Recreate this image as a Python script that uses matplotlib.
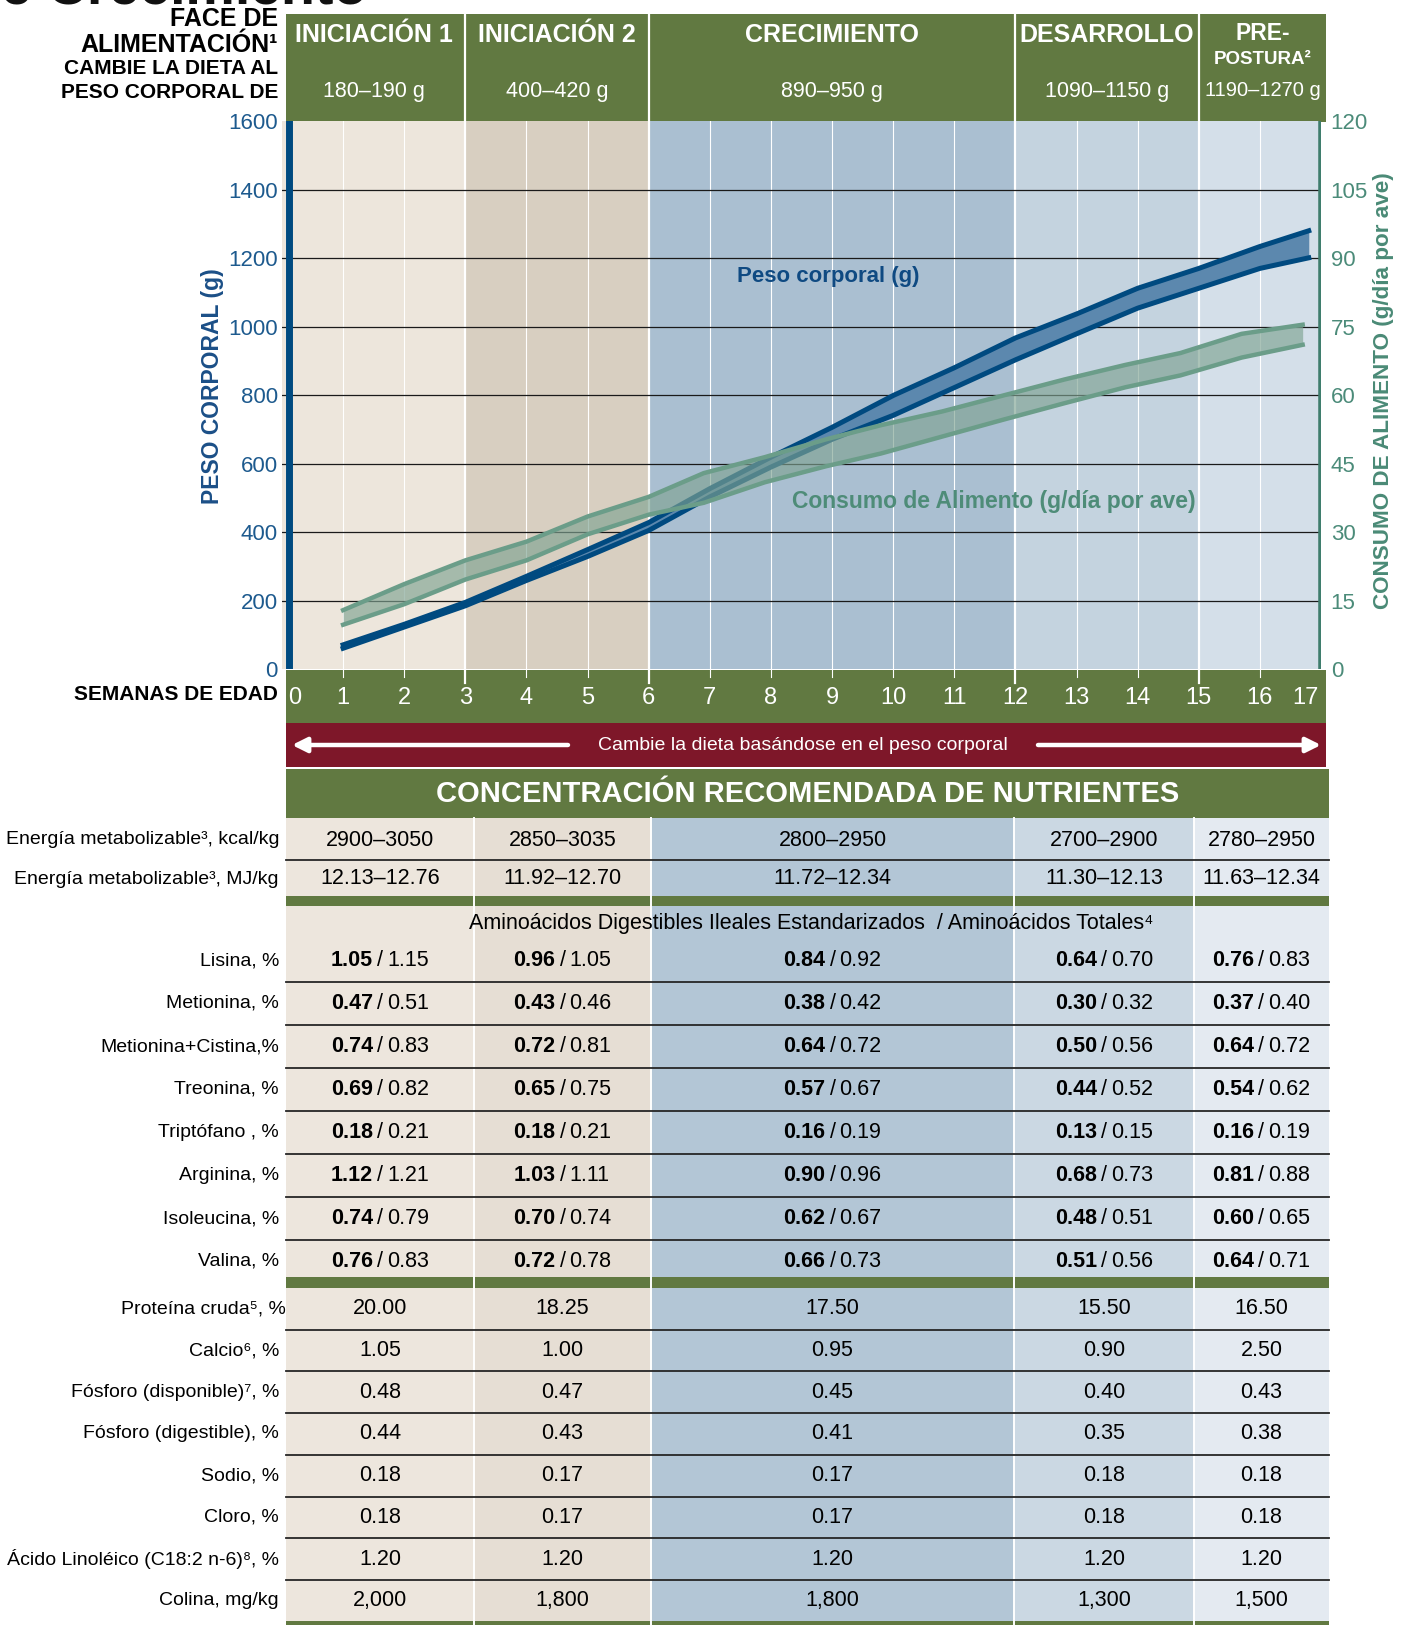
import numpy as np
import matplotlib.pyplot as plt
from matplotlib.patches import Rectangle

FONT = ['Liberation Sans', 'DejaVu Sans']
plt.rcParams['font.family'] = FONT

W, H = 1410, 1625
GREEN = '#617941'
RED = '#7e1729'
NAVY = '#004a80'
BLUE_TXT = '#1d5a8e'
TEAL = '#4b8b79'

# ---- chart data ----
stage_edges = [0, 3, 6, 12, 15, 17]
stage_names = ['INICIACIÓN 1', 'INICIACIÓN 2', 'CRECIMIENTO', 'DESARROLLO', 'PRE-']
stage_weights = ['180–190 g', '400–420 g', '890–950 g', '1090–1150 g', '1190–1270 g']
stage_bg = ['#ede6dc', '#d8cfc1', '#aabfd1', '#c4d3df', '#d4dfe9']

weeks_bw = [1, 2, 3, 4, 5, 6, 7, 8, 9, 10, 11, 12, 13, 14, 15, 16, 16.8]
bw_upper = [72, 132, 196, 272, 350, 429, 528, 620, 707, 800, 881, 968, 1038, 1113, 1171, 1235, 1281]
bw_lower = [62, 124, 186, 260, 330, 406, 504, 591, 672, 742, 823, 904, 980, 1055, 1113, 1171, 1202]

weeks_feed = [1, 2, 3, 4, 5, 6, 6.9, 7.9, 8.9, 9.8, 10.8, 11.8, 12.8, 13.8, 14.7, 15.7, 16.7]
feed_upper = [13.0, 18.7, 23.9, 28.0, 33.5, 37.8, 43.0, 46.5, 50.4, 53.5, 56.5, 60.0, 63.5, 66.7, 69.3, 73.5, 75.5]
feed_lower = [9.8, 14.3, 19.7, 23.9, 29.6, 33.9, 36.5, 41.0, 44.5, 47.3, 51.0, 54.7, 58.3, 61.8, 64.4, 68.3, 71.1]

bw_ticks = list(range(0, 1601, 200))
feed_ticks = list(range(0, 121, 15))
week_ticks = list(range(0, 18))

# ---- table data ----
energy_labels = ['Energía metabolizable³, kcal/kg', 'Energía metabolizable³, MJ/kg']
energy_vals = [['2900–3050', '2850–3035', '2800–2950', '2700–2900', '2780–2950'],
               ['12.13–12.76', '11.92–12.70', '11.72–12.34', '11.30–12.13', '11.63–12.34']]

amino_labels = ['Lisina, %', 'Metionina, %', 'Metionina+Cistina,%', 'Treonina, %',
                'Triptófano , %', 'Arginina, %', 'Isoleucina, %', 'Valina, %']
amino_dig = [['1.05', '0.96', '0.84', '0.64', '0.76'],
             ['0.47', '0.43', '0.38', '0.30', '0.37'],
             ['0.74', '0.72', '0.64', '0.50', '0.64'],
             ['0.69', '0.65', '0.57', '0.44', '0.54'],
             ['0.18', '0.18', '0.16', '0.13', '0.16'],
             ['1.12', '1.03', '0.90', '0.68', '0.81'],
             ['0.74', '0.70', '0.62', '0.48', '0.60'],
             ['0.76', '0.72', '0.66', '0.51', '0.64']]
amino_tot = [['1.15', '1.05', '0.92', '0.70', '0.83'],
             ['0.51', '0.46', '0.42', '0.32', '0.40'],
             ['0.83', '0.81', '0.72', '0.56', '0.72'],
             ['0.82', '0.75', '0.67', '0.52', '0.62'],
             ['0.21', '0.21', '0.19', '0.15', '0.19'],
             ['1.21', '1.11', '0.96', '0.73', '0.88'],
             ['0.79', '0.74', '0.67', '0.51', '0.65'],
             ['0.83', '0.78', '0.73', '0.56', '0.71']]

other_labels = ['Proteína cruda⁵, %', 'Calcio⁶, %', 'Fósforo (disponible)⁷, %', 'Fósforo (digestible), %',
                'Sodio, %', 'Cloro, %', 'Ácido Linoléico (C18:2 n-6)⁸, %', 'Colina, mg/kg']
other_vals = [['20.00', '18.25', '17.50', '15.50', '16.50'],
              ['1.05', '1.00', '0.95', '0.90', '2.50'],
              ['0.48', '0.47', '0.45', '0.40', '0.43'],
              ['0.44', '0.43', '0.41', '0.35', '0.38'],
              ['0.18', '0.17', '0.17', '0.18', '0.18'],
              ['0.18', '0.17', '0.17', '0.18', '0.18'],
              ['1.20', '1.20', '1.20', '1.20', '1.20'],
              ['2,000', '1,800', '1,800', '1,300', '1,500']]

col_edges = [286, 474, 651, 1014, 1194, 1329]
col_bg = ['#ede6dd', '#e6ded4', '#b3c6d6', '#cbd8e3', '#e4eaf1']

VAL_FS = 15.5
LAB_FS = 14

# chart geometry in pixels
cx0, cx1 = 282, 1321
cy_top, cy_bot = 121.5, 669.5


def wx(w):
    return cx0 + w * (cx1 - cx0) / 17


fig = plt.figure(figsize=(W / 100, H / 100), dpi=100)
tab = fig.add_axes([0, 0, 1, 1])
tab.set_xlim(0, W)
tab.set_ylim(H, 0)
tab.axis('off')

# cut-off title at the very top
tab.text(367, 4, 'de Crecimiento', ha='right', va='baseline', fontsize=40,
         fontweight='bold', color='#111111')

# ---- header band ----
tab.add_patch(Rectangle((286, 13.5), 1326 - 286, cy_top - 13.5, color=GREEN, lw=0))
for e in stage_edges[1:-1]:
    tab.plot([wx(e), wx(e)], [13.5, cy_top], color='white', lw=1.6)
for i, (nm, wt) in enumerate(zip(stage_names, stage_weights)):
    xc = (wx(stage_edges[i]) + wx(stage_edges[i + 1])) / 2
    if i == 4:
        xc += 3
        tab.text(xc, 34, nm, ha='center', va='center', color='white', fontsize=16.5,
                 fontweight='bold')
        tab.text(xc, 59, 'POSTURA²', ha='center', va='center', color='white', fontsize=13.5,
                 fontweight='bold')
    else:
        tab.text(xc, 35, nm, ha='center', va='center', color='white', fontsize=18,
                 fontweight='bold')
    tab.text(xc, 91, wt, ha='center', va='center', color='white',
             fontsize=14.5 if i == 4 else 15.5)

tab.text(278, 19, 'FACE DE', ha='right', va='center', fontsize=18, fontweight='bold')
tab.text(278, 45, 'ALIMENTACIÓN¹', ha='right', va='center', fontsize=18, fontweight='bold')
tab.text(278, 69, 'CAMBIE LA DIETA AL', ha='right', va='center', fontsize=15, fontweight='bold')
tab.text(278, 93, 'PESO CORPORAL DE', ha='right', va='center', fontsize=15, fontweight='bold')

# ---- chart ----
ax = fig.add_axes([cx0 / W, 1 - cy_bot / H, (cx1 - cx0) / W, (cy_bot - cy_top) / H])
ax.set_xlim(0, 17)
ax.set_ylim(0, 1600)
for i in range(len(stage_bg)):
    ax.axvspan(stage_edges[i], stage_edges[i + 1], color=stage_bg[i], lw=0, zorder=0)
for w in week_ticks[1:-1]:
    ax.axvline(w, color='white', lw=1.6 if w in stage_edges else 0.8, zorder=1)
for t in bw_ticks[1:-1]:
    ax.axhline(t, color='#1a1a1a', lw=0.9, zorder=2)
ax.axvline(0.12, color=NAVY, lw=5, zorder=6)
ax.axvline(17, color='#3f7d6d', lw=4, zorder=6)

ax.fill_between(weeks_bw, bw_lower, bw_upper, color='#5c88ae', lw=0, zorder=4)
ax.plot(weeks_bw, bw_upper, color=NAVY, lw=3.6, zorder=5)
ax.plot(weeks_bw, bw_lower, color=NAVY, lw=3.6, zorder=5)

ax.set_yticks(bw_ticks)
ax.set_xticks([])
ax.tick_params(axis='y', length=0, pad=3, labelsize=16, labelcolor=BLUE_TXT)
for s in ax.spines.values():
    s.set_visible(False)
ax.text(8.94, 1146, 'Peso corporal (g)', ha='center', va='center', fontsize=16,
        fontweight='bold', color='#0f4a82', zorder=7)

ax2 = ax.twinx()
ax2.set_ylim(0, 120)
ax2.fill_between(weeks_feed, feed_lower, feed_upper, color='#7fa392', alpha=0.65, lw=0, zorder=4)
ax2.plot(weeks_feed, feed_upper, color='#6b9d89', lw=3.2, zorder=5)
ax2.plot(weeks_feed, feed_lower, color='#6b9d89', lw=3.2, zorder=5)
ax2.set_yticks(feed_ticks)
ax2.tick_params(axis='y', length=0, pad=7, labelsize=16, labelcolor=TEAL)
for s in ax2.spines.values():
    s.set_visible(False)
ax2.text(11.65, 36.7, 'Consumo de Alimento (g/día por ave)', ha='center', va='center',
         fontsize=16.5, fontweight='bold', color='#4e8c78', zorder=7)

tab.text(212, 386, 'PESO CORPORAL (g)', rotation=90, ha='center', va='center', fontsize=16.5,
         fontweight='bold', color='#1b4f87')
tab.text(1384, 391, 'CONSUMO DE ALIMENTO (g/día por ave)', rotation=90, ha='center', va='center',
         fontsize=16.2, fontweight='bold', color='#4a8a76')

# ---- week band ----
tab.add_patch(Rectangle((286, cy_bot), 1326 - 286, 723 - cy_bot, color=GREEN, lw=0))
for w in week_ticks:
    if 0 < w < 17:
        major = w in stage_edges
        tab.plot([wx(w), wx(w)], [cy_bot, cy_bot + (13 if major else 7)], color='white',
                 lw=1.6 if major else 0.8)
    ha = 'left' if w == 0 else ('right' if w == 17 else 'center')
    xx = wx(w) + (6 if w == 0 else (-2 if w == 17 else 0))
    tab.text(xx, 698, str(w), ha=ha, va='center', color='white', fontsize=17)
tab.text(278, 694, 'SEMANAS DE EDAD', ha='right', va='center', fontsize=15, fontweight='bold')

# ---- red band ----
tab.add_patch(Rectangle((286, 723), 1326 - 286, 44, color=RED, lw=0))
tab.text(803, 745, 'Cambie la dieta basándose en el peso corporal', ha='center', va='center',
         color='white', fontsize=14)
for a, b in [(568, 292), (1038, 1321)]:
    tab.annotate('', xy=(b, 745), xytext=(a, 745),
                 arrowprops=dict(arrowstyle='-|>', color='white', lw=3.2, mutation_scale=22,
                                 shrinkA=0, shrinkB=0))

# ---- nutrient table ----
tab.add_patch(Rectangle((286, 769), 1329 - 286, 49, color=GREEN, lw=0))
tab.text(808, 794, 'CONCENTRACIÓN RECOMENDADA DE NUTRIENTES', ha='center', va='center',
         color='white', fontsize=21, fontweight='bold')

for i in range(5):
    tab.add_patch(Rectangle((col_edges[i], 818), col_edges[i + 1] - col_edges[i], 1621 - 818,
                            color=col_bg[i], lw=0))
col_mid = [(col_edges[i] + col_edges[i + 1]) / 2 for i in range(5)]


def row_line(y):
    tab.plot([286, 1329], [y, y], color='#262626', lw=1.3, zorder=3)


# energy rows
energy_tops = [818, 860]
energy_h = [42, 36]
for r, lab in enumerate(energy_labels):
    yc = energy_tops[r] + energy_h[r] / 2 + 1
    tab.text(279, yc, lab, ha='right', va='center', fontsize=LAB_FS)
    for i in range(5):
        tab.text(col_mid[i], yc, energy_vals[r][i], ha='center', va='center', fontsize=VAL_FS)
row_line(860)

tab.add_patch(Rectangle((286, 896), 1329 - 286, 10, color=GREEN, lw=0, zorder=2))
tab.text(811, 923, 'Aminoácidos Digestibles Ileales Estandarizados  / Aminoácidos Totales⁴',
         ha='center', va='center', fontsize=15.5)

amino_top, amino_h = 939, 43
for r, lab in enumerate(amino_labels):
    yc = amino_top + r * amino_h + amino_h / 2
    if r > 0:
        row_line(amino_top + r * amino_h)
    tab.text(279, yc, lab, ha='right', va='center', fontsize=LAB_FS)
    for i in range(5):
        tab.text(col_mid[i], yc, '/', ha='center', va='center', fontsize=VAL_FS)
        tab.text(col_mid[i] - 7, yc, amino_dig[r][i], ha='right', va='center', fontsize=VAL_FS,
                 fontweight='bold')
        tab.text(col_mid[i] + 7, yc, amino_tot[r][i], ha='left', va='center', fontsize=VAL_FS)

tab.add_patch(Rectangle((286, 1277), 1329 - 286, 11, color=GREEN, lw=0, zorder=2))

other_top, other_h = 1288, 41.7
for r, lab in enumerate(other_labels):
    yc = other_top + r * other_h + other_h / 2
    if r > 0:
        row_line(other_top + r * other_h)
    tab.text(286 if r == 0 else 279, yc, lab, ha='right', va='center', fontsize=LAB_FS)
    for i in range(5):
        tab.text(col_mid[i], yc, other_vals[r][i], ha='center', va='center', fontsize=VAL_FS)

tab.add_patch(Rectangle((286, 1621), 1329 - 286, 4, color=GREEN, lw=0, zorder=2))
for e in col_edges[1:-1]:
    tab.plot([e, e], [818, 1625], color='white', lw=1.4, zorder=2.5)

fig.savefig('out.png', dpi=100)
